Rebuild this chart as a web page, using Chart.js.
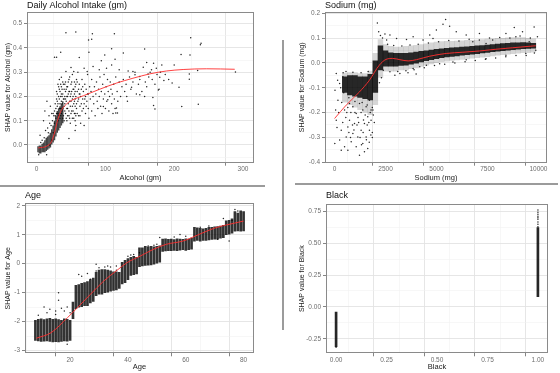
<!DOCTYPE html>
<html>
<head>
<meta charset="utf-8">
<script src="https://cdn.jsdelivr.net/npm/chart.js@4.4.0/dist/chart.umd.min.js"></script>
<style>
  body { margin: 0; background: #fff; }
  #wrap { position: relative; width: 560px; height: 373px; overflow: hidden; }
  canvas, .rule { position: absolute; }
  .rule { background: #9b9b9b; }
</style>
</head>
<body>
<div id="wrap">
  <canvas id="alcohol" width="258" height="184" style="left:0;top:0"></canvas>
  <canvas id="sodium" width="257" height="184" style="left:294px;top:0"></canvas>
  <canvas id="age" width="258" height="183" style="left:0;top:190px"></canvas>
  <canvas id="black" width="258" height="183" style="left:294px;top:190px"></canvas>
  <div class="rule" style="left:0;top:185px;width:265px;height:1.5px"></div>
  <div class="rule" style="left:295px;top:183px;width:263px;height:1.5px"></div>
  <div class="rule" style="left:282px;top:40px;width:1.5px;height:290px"></div>
</div>
<script>
/* ---------- Daily alcohol intake ---------- */
const alcoholXTicks = [0, 100, 200, 300];
const alcoholYTicks = [0, 0.1, 0.2, 0.3, 0.4, 0.5];
// dense core of the cloud, read as a low/high band per 2 gm
const alcoholCoreX  = [2, 4, 6, 8, 10, 12, 14, 16, 18, 20, 22, 24, 26, 28, 30, 32, 34, 36, 38];
const alcoholCoreLo = [-0.03, -0.035, -0.035, -0.03, -0.03, -0.03, -0.025, -0.02, -0.015, -0.01, 0.0, 0.01, 0.02, 0.035, 0.05, 0.06, 0.07, 0.08, 0.09];
const alcoholCoreHi = [-0.005, 0.0, 0.0, 0.005, 0.01, 0.02, 0.03, 0.035, 0.04, 0.05, 0.065, 0.08, 0.1, 0.12, 0.14, 0.15, 0.16, 0.17, 0.18];
// scattered points [gm, shap]
const alcoholPts = [
  [42.6,.463],[57,.466],[81,.458],[113,.458],[75.5,.433],[80,.436],[224,.442],[239,.419],[238,.413],[109,.397],
  [126,.379],[35,.382],[26,.362],[29,.362],[62,.36],[76,.382],[157,.396],[99,.371],[210,.373],[223,.371],
  [94,.347],[114,.353],[160,.34],[182,.33],[170,.337],[289,.301],[234,.307],[222,.293],[222,.271],[235,.168],
  [211,.159],[207,.238],[197,.255],[179,.279],[185,.266],[177,.227],[169,.196],[170,.163],[172,.148],[157,.2],
  [150,.207],[138,.238],[131,.2],[116,.152],[115,.132],[117.5,.132],[103.5,.186],[97,.159],[133,.305],[140,.303],
  [150,.282],[162,.293],[167,.31],[174,.316],[143,.289],[120,.31],[109,.33],[101.6,.316],[91,.31],[82,.323],
  [73.5,.303],[69,.316],[54,.303],[50,.319],[42.6,.303],[36,.279],[47,.027],[14.5,-.04],
  [25,.12],[26,.14],[27,.17],[28,.11],[29,.19],[30,.16],[30,.21],[31,.13],[32,.2],[32,.24],
  [33,.15],[33,.27],[34,.22],[35,.12],[35,.25],[36,.18],[36,.21],[37,.14],[37,.23],[38,.26],
  [38,.11],[39,.19],[40,.23],[40,.16],[41,.2],[41,.25],[42,.13],[42,.22],[43,.18],[44,.24],
  [44,.1],[45,.2],[45,.15],[46,.26],[47,.12],[47,.22],[48,.18],[48,.28],[49,.09],[50,.21],
  [50,.25],[51,.14],[52,.19],[52,.29],[53,.23],[54,.11],[54,.17],[55,.26],[55,.21],[56,.06],
  [56,.1],[56,.13],[56,.16],[56,.19],[56,.22],[56,.24],[57,.08],[57,.2],[58,.27],[58,.15],
  [59,.22],[60,.18],[60,.3],[61,.12],[62,.21],[62,.25],[63,.16],[64,.09],[64,.2],[65,.23],
  [66,.14],[66,.27],[67,.19],[68,.22],[69,.08],[69,.17],[70,.25],[71,.13],[71,.2],[72,.23],
  [73,.18],[74,.29],[75,.15],[75,.21],[76,.11],[77,.24],[78,.19],[79,.22],[80,.14],[80,.27],
  [82,.2],[83,.17],[84,.24],[85,.12],[86,.21],[87,.26],[88,.18],[89,.15],[90,.23],[91,.2],
  [92,.28],[93,.16],[94,.22],[95,.13],[96,.25],[97,.19],[98,.29],[99,.21],[100,.15],[101,.24],
  [102,.18],[103,.27],[104,.22],[105,.14],[106,.2],[107,.26],[108,.23],[109,.17],[110,.21],[111,.13],
  [112,.25],[113,.19],[114,.15],[115,.28],[117,.22],[118,.18],[120,.26],[122,.2],[124,.24],[126,.27],
  [128,.22],[130,.25],[132,.18],[135,.28],[137,.23],[140,.26],[143,.3],[145,.21],[148,.25],[150,.27],
  [153,.22],[155,.32],[158,.26],[160,.24],[163,.28],[165,.3],[168,.27],[172,.25],[175,.29],[178,.23],
  [180,.3],[187,.29],[192,.27],[200,.33],[10,.1],[12,.14],[15,.18],[18,.12],[20,.16],[22,.13],
  [16,.07],[19,.09],[23,.1],[8,.02],[5,.04],[13,.06],
  [26,.09],[27,.12],[28,.15],[29,.13],[29,.22],[30,.18],[31,.1],[31,.17],[31,.25],[32,.12],
  [33,.19],[33,.23],[34,.11],[34,.17],[35,.2],[35,.15],[36,.13],[36,.24],[37,.17],[37,.2],
  [38,.15],[38,.21],[39,.12],[39,.25],[40,.1],[40,.19],[41,.14],[41,.17],[42,.19],[42,.26],
  [43,.11],[43,.23],[44,.15],[44,.2],[45,.12],[45,.24],[46,.17],[46,.21],[47,.14],[47,.27],
  [48,.11],[48,.22],[49,.16],[49,.2],[50,.13],[50,.18],[51,.22],[51,.26],[52,.11],[52,.16],
  [53,.2],[53,.14],[54,.23],[55,.13],[55,.18],[57,.12],[57,.25],[58,.17],[59,.13],[59,.26],
  [61,.19],[61,.23],[63,.21],[63,.12],[65,.17],[67,.24],[68,.15],[70,.19],[72,.16],[74,.21],
  [3,-.04],[6,.01],[9,-.01],[11,.03],[17,.05],[21,.08],[24,.05],[24,.13],[22,.02],[19,.0]
];
const alcoholFitX = [2.4, 14.5, 21.8, 26.6, 30, 35, 41, 51, 68, 92, 116, 140, 164.5, 189, 213, 247, 288];
const alcoholFitY = [-0.012, -0.005, 0.015, 0.056, 0.097, 0.138, 0.162, 0.184, 0.203, 0.23, 0.255, 0.275, 0.293, 0.305, 0.311, 0.314, 0.312];

/* ---------- Sodium ---------- */
const sodiumXTicks = [0, 2500, 5000, 7500, 10000];
const sodiumYTicks = [-0.4, -0.3, -0.2, -0.1, 0, 0.1, 0.2];
const sodiumBinX = [500, 750, 1000, 1250, 1500, 1750, 2000, 2250, 2500, 2750, 3000, 3250, 3500, 3750, 4000, 4250, 4500, 4750, 5000, 5250,
  5500, 5750, 6000, 6250, 6500, 6750, 7000, 7250, 7500, 7750, 8000, 8250, 8500, 8750, 9000, 9250, 9500, 9750];
// densest part of the cloud per 250 mg
const sodiumCoreLo = [-0.12, -0.13, -0.135, -0.14, -0.145, -0.15, -0.12, -0.03, -0.015, -0.015, -0.015, -0.012, -0.01, -0.006, -0.002, 0.003, 0.008, 0.012, 0.016, 0.02,
  0.023, 0.025, 0.027, 0.03, 0.032, 0.034, 0.036, 0.039, 0.041, 0.044, 0.046, 0.048, 0.05, 0.052, 0.054, 0.056, 0.057, 0.058];
const sodiumCoreHi = [-0.055, -0.05, -0.05, -0.055, -0.055, -0.045, 0.01, 0.07, 0.05, 0.042, 0.04, 0.04, 0.04, 0.042, 0.045, 0.048, 0.05, 0.053, 0.056, 0.058,
  0.06, 0.062, 0.063, 0.065, 0.066, 0.068, 0.07, 0.071, 0.073, 0.075, 0.077, 0.079, 0.08, 0.082, 0.082, 0.083, 0.082, 0.08];
// looser fringe round that core
const sodiumFringeLo = [-0.16, -0.17, -0.18, -0.19, -0.2, -0.21, -0.17, -0.06, -0.035, -0.035, -0.035, -0.03, -0.03, -0.025, -0.022, -0.016, -0.01, -0.005, 0.0, 0.004,
  0.006, 0.009, 0.011, 0.013, 0.015, 0.018, 0.02, 0.022, 0.024, 0.027, 0.03, 0.032, 0.034, 0.036, 0.038, 0.04, 0.04, 0.042];
const sodiumFringeHi = [-0.04, -0.038, -0.038, -0.042, -0.042, -0.032, 0.04, 0.095, 0.075, 0.068, 0.065, 0.065, 0.068, 0.07, 0.072, 0.075, 0.078, 0.082, 0.085, 0.087,
  0.088, 0.088, 0.089, 0.09, 0.092, 0.092, 0.093, 0.095, 0.097, 0.098, 0.1, 0.1, 0.102, 0.103, 0.103, 0.103, 0.1, 0.098];
const sodiumPts = [
  [10,-.325],[246,-.311],[327,-.271],[83,-.231],[50,-.19],[164,-.15],[20,-.11],[246,-.083],[408,-.056],[83,-.043],
  [490,-.19],[733,-.231],[652,-.258],[896,-.284],[815,-.318],[1059,-.338],[1221,-.372],[1384,-.325],[1547,-.298],[1628,-.345],
  [1140,-.298],[1302,-.271],[1465,-.244],[1709,-.271],[977,-.244],[1059,-.204],[1384,-.19],[1628,-.217],[1790,-.231],[1547,-.177],
  [1221,-.164],[896,-.177],[733,-.164],[1790,-.19],[1709,-.15],[327,-.352],[490,-.338],[570,-.298],[652,-.352],[1465,-.358],
  [150,-.07],[300,-.1],[200,-.2],[120,-.26],[400,-.24],[350,-.16],[450,-.12],[600,-.2],[700,-.28],[1000,-.2],
  [1150,-.22],[1300,-.2],[1500,-.21],[1600,-.25],[1850,-.28],[1900,-.21],[1850,-.3],[1700,-.32],[950,-.27],[1100,-.25],
  [1250,-.3],[1400,-.28],[800,-.2],[650,-.18],[1750,-.2],[1950,-.24],
  [2098,.161],[2163,.125],[2471,.116],[5447,.175],[5317,.156],[5642,.148],[4992,.132],[5967,.125],[8813,.143],[9789,.145],
  [9219,.125],[8406,.118],[7106,.118],[6455,.112],[4667,.112],[3854,.105],[3528,.094],[3041,.098],[2715,.112],[2553,.092],
  [2959,-.05],[3203,-.043],[2715,-.036],[2390,-.03],[3854,-.023],[4179,-.016],[4504,-.009],[5154,-.003],[5805,.004],[6455,.013],
  [7431,.017],[8406,.031],[9382,.038],[9870,.051],[9950,.105],[7756,.092],[8894,.105],[9545,.085],[6780,.085],[7431,.078],
  [4341,.092],[4829,.098],[2600,.075],[2900,.07],[3300,.068],[3700,.072],[4100,.075],[4600,.08],[5100,.085],[5600,.09],
  [6100,.088],[6600,.095],[7100,.092],[7600,.1],[8100,.102],[8600,.1],[9100,.108],[9600,.1],[3100,-.035],[3500,-.032],
  [3900,-.028],[4400,-.02],[4900,-.01],[5400,-.005],[5900,.0],[6400,.005],[6900,.01],[7400,.015],[7900,.02],[8400,.025],
  [8900,.03],[9400,.03],[9800,.04],[2300,-.06],[2200,-.08],[2350,.1],[2250,.11],[3600,-.04],[4000,-.045],
  [420,-.04],[560,-.035],[900,-.038],[1300,-.04],[1650,-.035],[700,-.14],[1000,-.155],[1350,-.16],[1600,-.17],[1850,-.18],
  [550,-.22],[880,-.25],[1180,-.24],[1420,-.23],[1680,-.24],[1880,-.19],[780,-.3],[1320,-.33],[1560,-.31],[1780,-.29]
];
const sodiumFitX = [0, 570, 1220, 1707, 2195, 2522, 2848, 3203, 3610, 4016, 4667, 5480, 6293, 7106, 7919, 8732, 9870];
const sodiumFitY = [-0.224, -0.17, -0.117, -0.07, -0.009, 0.014, 0.018, 0.013, 0.008, 0.013, 0.027, 0.038, 0.043, 0.048, 0.055, 0.061, 0.069];

/* ---------- Age ---------- */
const ageXTicks = [20, 40, 60, 80];
const ageYTicks = [-3, -2, -1, 0, 1, 2];
const ageYears = [8, 9, 10, 11, 12, 13, 14, 15, 16, 17, 18, 19, 20, 21, 22, 23, 24, 25, 26, 27, 28, 29, 30, 31, 32, 33, 34, 35, 36, 37,
  38, 39, 40, 41, 42, 43, 44, 45, 46, 47, 48, 49, 50, 51, 52, 53, 54, 55, 56, 57, 58, 59, 60, 61, 62, 63, 64, 65, 66, 67,
  68, 69, 70, 71, 72, 73, 74, 75, 76, 77, 78, 79, 80];
const ageLo = [-2.65, -2.66, -2.68, -2.67, -2.66, -2.68, -2.7, -2.69, -2.7, -2.68, -2.66, -2.67, -2.65, -1.9, -1.55, -1.5, -1.48, -1.45, -1.45, -1.35,
  -1.3, -1.1, -1.05, -1.05, -1.0, -0.98, -0.95, -0.92, -0.9, -0.85, -0.7, -0.65, -0.55, -0.4, -0.38, -0.35, -0.1, -0.08, -0.06, -0.05,
  -0.04, -0.02, 0.02, 0.05, 0.42, 0.44, 0.45, 0.45, 0.46, 0.45, 0.47, 0.48, 0.46, 0.48, 0.5, 0.78, 0.8, 0.78, 0.8, 0.8,
  0.82, 0.84, 0.85, 0.85, 0.88, 0.9, 1.0, 1.02, 1.05, 1.12, 1.13, 1.12, 1.13];
const ageHi = [-1.95, -1.92, -1.9, -1.93, -1.9, -1.88, -1.92, -1.9, -1.93, -1.95, -1.9, -1.92, -1.95, -1.32, -0.75, -0.72, -0.68, -0.65, -0.62, -0.55,
  -0.5, -0.3, -0.22, -0.2, -0.2, -0.22, -0.25, -0.28, -0.28, -0.3, 0.05, 0.12, 0.18, 0.22, 0.25, 0.22, 0.55, 0.55, 0.6, 0.58,
  0.6, 0.58, 0.6, 0.62, 0.85, 0.86, 0.84, 0.85, 0.83, 0.86, 0.85, 0.84, 0.86, 0.85, 0.88, 1.25, 1.24, 1.22, 1.2, 1.22,
  1.25, 1.25, 1.27, 1.28, 1.3, 1.32, 1.48, 1.5, 1.55, 1.8, 1.75, 1.82, 1.8];
const agePts = [
  [16,-1.0],[16,-1.26],[11,-1.49],[13,-1.57],[15,-1.63],[17,-1.54],[18,-1.63],[19,-1.49],[20,-1.69],[12,-1.69],
  [15,-1.75],[9,-1.78],[19,-2.78],[23,-.37],[24,-.43],[26,-.34],[27,-.54],[29,-.02],[30,-.14],[32,-.11],
  [33,-.08],[34,-.11],[36,-.08],[36,-.23],[29,-.25],[40,.26],[41,.3],[42,.32],[44,.38],[47,.61],
  [49,.64],[50,.67],[51,.9],[58,1.01],[60,.95],[56,.92],[65,1.26],[68,1.3],[73,1.56],[76,1.49],
  [77,1.87],[78,1.82],[71,.84],[75,.78]
];
const ageFitX = [8.3, 13.4, 19.1, 22.5, 27, 31.6, 36.2, 39.6, 44.2, 48.7, 53.3, 59, 64.6, 70.3, 76, 80];
const ageFitY = [-2.57, -2.38, -1.86, -1.52, -1.06, -0.6, -0.23, 0.03, 0.26, 0.49, 0.67, 0.78, 1.01, 1.24, 1.38, 1.47];

/* ---------- Black ---------- */
const blackXTicks = [0, 0.25, 0.5, 0.75, 1];
const blackYTicks = [-0.25, 0, 0.25, 0.5, 0.75];
const blackX  = [0, 1];
const blackLo = [-0.31, 0.08];
const blackHi = [-0.04, 0.62];
const blackPts = [[1,.758],[1,.724],[1,.698],[1,.685],[1,.664],[1,.646],[1,.628],[1,.74],[1,.71],[0,-.315]];

Chart.defaults.font.family = "'Liberation Sans', Arial, sans-serif";

const pairs = (xs, ys) => xs.map((x, i) => ({x: x, y: ys[i]}));
const bands = (xs, lo, hi) => xs.map((x, i) => ({x: x, y: [lo[i], hi[i]]}));
const pts = a => a.map(p => ({x: p[0], y: p[1]}));

// major ticks plus ggplot-style minor lines half way between them
function tickList(major, min, max) {
  const half = (major[1] - major[0]) / 2, out = [];
  for (let k = -1; k <= 2 * major.length - 1; k++) {
    const v = major[0] + k * half;
    if (v >= min && v <= max) out.push({value: v, main: k % 2 === 0});
  }
  return out;
}

// grey frame round the panel (theme_bw look)
const frame = {
  id: 'frame',
  afterDraw(chart) {
    const a = chart.chartArea, ctx = chart.ctx;
    ctx.save();
    ctx.strokeStyle = '#8a8a8a';
    ctx.lineWidth = 1;
    ctx.strokeRect(Math.round(a.left) + 0.5, Math.round(a.top) + 0.5, Math.round(a.right - a.left) - 1, Math.round(a.bottom - a.top) - 1);
    ctx.restore();
  }
};

function axis(o) {
  const list = tickList(o.ticks, o.min, o.max);
  return {
    type: 'linear', min: o.min, max: o.max, offset: false,
    afterBuildTicks: s => { s.ticks = list.map(t => ({value: t.value, main: t.main})); },
    afterFit: s => { if (o.width) s.width = o.width; if (o.height) s.height = o.height; },
    title: {display: true, text: o.title, color: '#222', font: {size: o.titleSize}, padding: o.titlePad},
    border: {display: false},
    grid: {
      color: c => c.tick ? (c.tick.main ? '#e3e3e3' : '#f1f1f1') : 'rgba(0,0,0,0)',
      lineWidth: c => c.tick && c.tick.main ? 0.9 : 0.6,
      tickColor: c => c.tick && c.tick.main ? '#777' : 'rgba(0,0,0,0)',
      tickLength: 3
    },
    ticks: {
      autoSkip: false, maxRotation: 0, padding: o.tickPad,
      color: '#6e6e6e', font: {size: 6.5},
      callback: (v, i, ticks) => ticks[i].main ? o.fmt(v) : ''
    }
  };
}

function bandSet(data, color, order, width) {
  const ds = {type: 'bar', data: data, backgroundColor: color, grouped: false, order: order};
  if (width) ds.barThickness = width;
  else { ds.barPercentage = 1.08; ds.categoryPercentage = 1; }
  return ds;
}

function panel(id, p) {
  const sets = [
    {type: 'line', data: p.fit, borderColor: 'rgba(255,45,45,0.9)', borderWidth: 1, pointRadius: 0,
     cubicInterpolationMode: 'monotone', order: 0},
    {data: p.pts, pointRadius: 0.75, backgroundColor: 'rgba(0,0,0,0.85)', borderWidth: 0, order: 1},
    bandSet(p.core, p.coreColor, 2, p.barW)
  ];
  if (p.fringe) sets.push(bandSet(p.fringe, 'rgba(0,0,0,0.16)', 3, p.barW));
  return new Chart(document.getElementById(id), {
    type: 'scatter',
    data: {datasets: sets},
    options: {
      responsive: false, animation: false, events: [],
      layout: {padding: {left: 0, top: 0, bottom: 0, right: p.padRight}},
      plugins: {
        legend: {display: false}, tooltip: {enabled: false},
        title: {display: true, text: p.title, align: 'start', fullSize: false, color: '#111',
                font: {size: 9, weight: 'normal'}, padding: p.titlePad}
      },
      scales: {
        x: axis(Object.assign({height: p.xh, titleSize: 7.5, titlePad: {top: 0, bottom: 1.5}, tickPad: 0}, p.x)),
        y: axis(Object.assign({width: p.yw, titleSize: 7, titlePad: {top: 4, bottom: 0}, tickPad: 2}, p.y))
      }
    },
    plugins: [frame]
  });
}

const f0 = v => String(v), f1 = v => v.toFixed(1), f2 = v => v.toFixed(2);

panel('alcohol', {
  title: 'Daily Alcohol Intake (gm)', titlePad: {top: 0, bottom: 1.2}, yw: 27, xh: 21.3, padRight: 3,
  fit: pairs(alcoholFitX, alcoholFitY), pts: pts(alcoholPts), core: bands(alcoholCoreX, alcoholCoreLo, alcoholCoreHi),
  coreColor: 'rgba(0,0,0,0.72)',
  x: {min: -14, max: 316, ticks: alcoholXTicks, title: 'Alcohol (gm)', fmt: f0},
  y: {min: -0.073, max: 0.548, ticks: alcoholYTicks, title: 'SHAP value for Alcohol (gm)', fmt: f1}
});

panel('sodium', {
  title: 'Sodium (mg)', titlePad: {top: 0, bottom: 1.2}, yw: 31, xh: 21.3, padRight: 2.5,
  fit: pairs(sodiumFitX, sodiumFitY), pts: pts(sodiumPts),
  core: bands(sodiumBinX, sodiumCoreLo, sodiumCoreHi), coreColor: 'rgba(0,0,0,0.82)',
  fringe: bands(sodiumBinX, sodiumFringeLo, sodiumFringeHi),
  x: {min: -470, max: 10420, ticks: sodiumXTicks, title: 'Sodium (mg)', fmt: f0},
  y: {min: -0.402, max: 0.205, ticks: sodiumYTicks, title: 'SHAP value for Sodium (mg)', fmt: f1}
});

panel('age', {
  title: 'Age', titlePad: {top: 0.5, bottom: 2}, yw: 25, xh: 19.7, padRight: 3, barW: 2,
  fit: pairs(ageFitX, ageFitY), pts: pts(agePts), core: bands(ageYears, ageLo, ageHi),
  coreColor: 'rgba(0,0,0,0.8)',
  x: {min: 4.4, max: 83.6, ticks: ageXTicks, title: 'Age', fmt: f0},
  y: {min: -3.09, max: 2.083, ticks: ageYTicks, title: 'SHAP value for Age', fmt: f0}
});

panel('black', {
  title: 'Black', titlePad: {top: 0.5, bottom: 2.7}, yw: 32, xh: 19.7, padRight: 2.7, barW: 2,
  fit: [], pts: pts(blackPts), core: bands(blackX, blackLo, blackHi), coreColor: 'rgba(0,0,0,0.85)',
  x: {min: -0.05, max: 1.05, ticks: blackXTicks, title: 'Black', fmt: f2},
  y: {min: -0.362, max: 0.805, ticks: blackYTicks, title: 'SHAP value for Black', fmt: f2}
});
</script>
</body>
</html>
